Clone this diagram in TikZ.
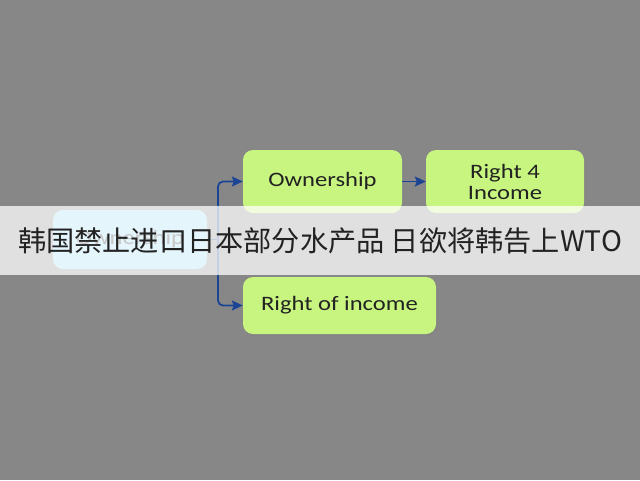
\documentclass[tikz,border=0pt]{standalone}
\usepackage{fontspec}
\usepackage{tikz}
\usetikzlibrary{shadows, arrows.meta}
\newfontfamily\boxfont[FakeStretch=1.2]{Carlito}
\newfontfamily\cjk{Noto Sans CJK SC}
\definecolor{bggray}{RGB}{135,135,135}
\definecolor{boxgreen}{RGB}{200,245,128}
\definecolor{boxblue}{RGB}{150,218,246}
\definecolor{linkblue}{RGB}{28,68,148}
\definecolor{txtgray}{RGB}{34,34,34}
\tikzset{
    gbox/.style={rectangle, rounded corners=10pt, fill=boxgreen, inner sep=0pt,
    	text=txtgray, align=center, drop shadow={shadow xshift=1.5pt, shadow yshift=-1.5pt, opacity=.35},
    	font=\boxfont\fontsize{20.5}{21}\selectfont},
    bbox/.style={gbox, fill=boxblue},
    link/.style={draw=linkblue, line width=1.8pt, rounded corners=5pt},
    banner/.style={rectangle, fill=white, fill opacity=.75, text opacity=1,
    	text=txtgray, inner sep=0pt, font=\cjk\fontsize{28.2}{32}\selectfont}
}
\begin{document}
\begin{tikzpicture}[x=1pt, y=-1pt, >={Stealth[length=11pt, width=10pt, inset=2pt]}]
	\fill[bggray] (0,0) rectangle (640,480);
	\useasboundingbox (0,0) rectangle (640,480);

	\node (src) [bbox, minimum width=154pt, minimum height=59pt] at (130, 239.5) {Ownership};
	\node (own) [gbox, minimum width=159pt, minimum height=63pt] at (322.5, 181.5) {Ownership};
	\node (inc) [gbox, minimum width=158pt, minimum height=63pt] at (505, 181.5) {Right 4\\Income};
	\node (roi) [gbox, minimum width=193pt, minimum height=57pt] at (339.5, 305.5) {Right of income};
	\coordinate (jn) at (218, 239.5);

	\draw[link] (src.east) -- (jn);
	\draw[link, ->] (jn) |- (own.west);
	\draw[link, ->] (jn) |- (roi.west);
	\draw[link, ->] (own) -- (inc);

	\node (ban) [banner, minimum width=640pt, minimum height=69pt] at (320, 240.5)
		{韩国禁止进口日本部分水产品 日欲将韩告上WTO};
\end{tikzpicture}
\end{document}
